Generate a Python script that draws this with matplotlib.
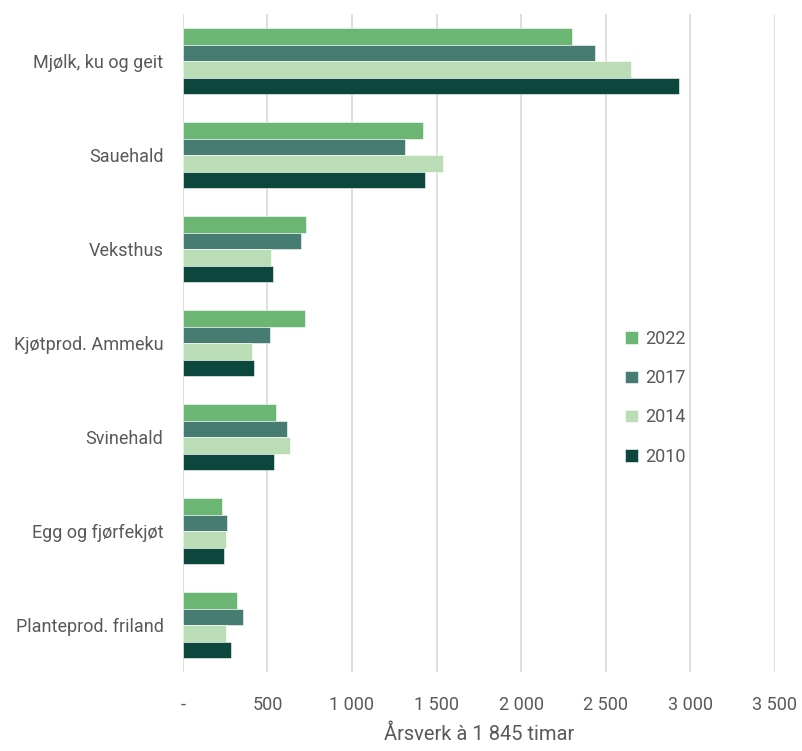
import numpy as np
import matplotlib.pyplot as plt

categories = ["Mjølk, ku og geit", "Sauehald", "Veksthus", "Kjøtprod. Ammeku",
              "Svinehald", "Egg og fjørfekjøt", "Planteprod. friland"]
years = ["2022", "2017", "2014", "2010"]
v2022 = [2304, 1420, 726, 720, 552, 231, 318]
v2017 = [2438, 1314, 698, 513, 615, 260, 354]
v2014 = [2651, 1538, 519, 410, 635, 257, 255]
v2010 = [2935, 1432, 535, 418, 541, 246, 282]
series = [v2022, v2017, v2014, v2010]
colors = ["#6BB673", "#467C72", "#BBDDB6", "#0B473C"]

plt.rcParams['font.family'] = ['Roboto', 'DejaVu Sans']

fig = plt.figure(figsize=(8.02, 7.51), dpi=100)
ax = fig.add_axes([0.228, 0.105, 0.738, 0.876])

y = np.arange(len(categories))
h = 0.175
for i, (vals, col, yr) in enumerate(zip(series, colors, years)):
    ax.barh(y + (i - 1.5) * h, vals, height=h, color=col, label=yr,
            edgecolor="white", linewidth=0.4, zorder=3)

ax.set_ylim(len(categories) - 0.5, -0.5)
ax.set_xlim(0, 3500)
ticks = np.arange(0, 3501, 500)
ax.set_xticks(ticks)
ax.set_xticklabels(["-"] + [f"{t:,}".replace(",", " ") for t in ticks[1:]])
ax.set_yticks(y)
ax.set_yticklabels(categories)
ax.tick_params(axis="both", length=0, colors="#595959", labelsize=13)
ax.tick_params(axis="x", pad=17)
ax.tick_params(axis="y", pad=14)
ax.grid(axis="x", color="#D9D9D9", linewidth=1.2, zorder=0)
for s in ax.spines.values():
    s.set_visible(False)

ax.set_xlabel("Årsverk à 1 845 timar", fontsize=14.5, color="#595959", labelpad=8)

leg = ax.legend(loc="upper left", bbox_to_anchor=(0.72, 0.545), frameon=False,
                fontsize=13, handlelength=0.7, handleheight=0.7,
                labelspacing=1.18, handletextpad=0.4)
for t in leg.get_texts():
    t.set_color("#595959")

fig.savefig("out.png", dpi=100)
